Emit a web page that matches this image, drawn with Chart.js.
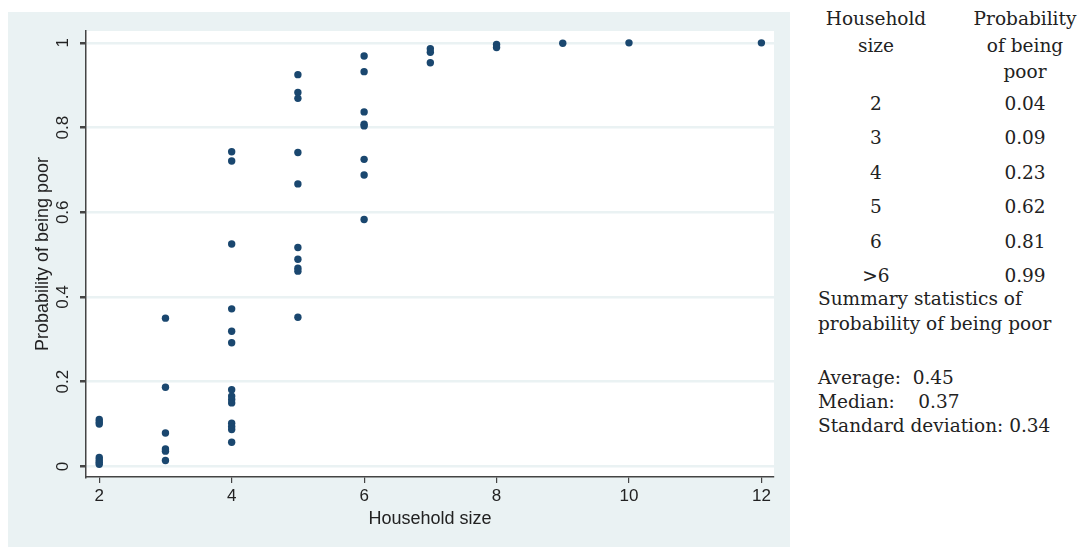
<!DOCTYPE html>
<html>
<head>
<meta charset="utf-8">
<script src="https://cdn.jsdelivr.net/npm/chart.js@4.4.1/dist/chart.umd.min.js"></script>
<style>
  html, body { margin: 0; padding: 0; background: #ffffff; }
  body { width: 1082px; height: 547px; position: relative; overflow: hidden; }
  #wrap { position: absolute; left: 8px; top: 12px; width: 782px; height: 535px; background: #eaf2f3; }
  .t { position: absolute; font-family: "DejaVu Serif", serif; font-size: 18.5px; line-height: 21px; color: #222; white-space: pre; }
  .c1 { width: 120px; left: 816px; text-align: center; }
  .c2 { width: 130px; left: 960px; text-align: center; }
</style>
</head>
<body>
<div id="wrap"><canvas id="scatter" width="782" height="535"></canvas></div>

<div class="t c1" style="top:8px">Household</div>
<div class="t c1" style="top:35px">size</div>
<div class="t c2" style="top:8px">Probability</div>
<div class="t c2" style="top:35px">of being</div>
<div class="t c2" style="top:61px">poor</div>
<div id="tableRows"></div>

<div class="t" style="left:818px;top:288px">Summary statistics of</div>
<div class="t" style="left:818px;top:313px">probability of being poor</div>
<div class="t" style="left:818px;top:367px">Average:  0.45</div>
<div class="t" style="left:818px;top:391px">Median:    0.37</div>
<div class="t" style="left:818px;top:415px">Standard deviation: 0.34</div>

<script>
// ── Data ─────────────────────────────────────────────────────
const householdSize = [
    2, 2, 2, 2, 2, 2, 2,
    3, 3, 3, 3, 3, 3,
    4, 4, 4, 4, 4, 4, 4, 4, 4, 4, 4, 4, 4, 4,
    5, 5, 5, 5, 5, 5, 5, 5, 5, 5,
    6, 6, 6, 6, 6, 6, 6, 6,
    7, 7, 7,
    8, 8,
    9, 10, 12
];
const probPoor = [
    0.111, 0.105, 0.100, 0.021, 0.015, 0.010, 0.005,
    0.350, 0.187, 0.079, 0.041, 0.036, 0.014,
    0.743, 0.721, 0.525, 0.372, 0.319, 0.292, 0.181, 0.166, 0.158, 0.150, 0.102, 0.094, 0.087, 0.057,
    0.925, 0.883, 0.869, 0.741, 0.667, 0.517, 0.489, 0.468, 0.461, 0.352,
    0.969, 0.932, 0.837, 0.808, 0.804, 0.725, 0.688, 0.583,
    0.986, 0.978, 0.953,
    0.996, 0.989,
    0.999, 1.0, 1.0
];
const xTicks = [2, 4, 6, 8, 10, 12];
const yTicks = [0, 0.2, 0.4, 0.6, 0.8, 1];

// side table
const tableSizes = ['2', '3', '4', '5', '6', '>6'];
const tableProbs = ['0.04', '0.09', '0.23', '0.62', '0.81', '0.99'];

const NAVY = '#1a476f';
const AXIS = '#444444';
const GRID = '#eaf2f3';

// ── Side table rows ──────────────────────────────────────────
const rowsEl = document.getElementById('tableRows');
tableSizes.forEach((s, i) => {
    const top = 93 + i * 34.4;
    rowsEl.insertAdjacentHTML('beforeend',
        '<div class="t c1" style="top:' + top + 'px"></div>' +
        '<div class="t c2" style="top:' + top + 'px"></div>');
    const cells = rowsEl.querySelectorAll('div');
    cells[cells.length - 2].textContent = s;
    cells[cells.length - 1].textContent = tableProbs[i];
});

// ── Plugin: white plot region + rotated y labels / title ─────
const stataFrame = {
    id: 'stataFrame',
    beforeDraw(chart) {
        const { ctx, chartArea: a } = chart;
        ctx.save();
        ctx.fillStyle = '#ffffff';
        ctx.fillRect(a.left, a.top, a.right - a.left, a.bottom - a.top);
        ctx.restore();
    },
    afterDraw(chart) {
        const { ctx, chartArea: a } = chart;
        const y = chart.scales.y;
        ctx.save();
        ctx.fillStyle = '#222';
        ctx.textAlign = 'center';
        ctx.textBaseline = 'middle';
        ctx.font = '17px "Liberation Sans", Arial, sans-serif';
        yTicks.forEach(v => {
            ctx.save();
            ctx.translate(55, y.getPixelForValue(v));
            ctx.rotate(-Math.PI / 2);
            ctx.fillText(String(v), 0, 0);
            ctx.restore();
        });
        ctx.font = '18px "Liberation Sans", Arial, sans-serif';
        ctx.translate(35, (a.top + a.bottom) / 2);
        ctx.rotate(-Math.PI / 2);
        ctx.fillText('Probability of being poor', 0, 0);
        ctx.restore();
    }
};

const points = householdSize.map((x, i) => ({ x, y: probPoor[i] }));

new Chart(document.getElementById('scatter'), {
    type: 'scatter',
    data: {
        datasets: [{
            data: points,
            backgroundColor: NAVY,
            borderColor: NAVY,
            borderWidth: 0,
            pointRadius: 3.7,
            pointHoverRadius: 3.7
        }]
    },
    options: {
        responsive: false,
        animation: false,
        layout: { padding: { left: 0, top: 19, right: 16, bottom: 0 } },
        plugins: { legend: { display: false }, tooltip: { enabled: false } },
        scales: {
            x: {
                type: 'linear',
                min: 1.8,
                max: 12.19,
                afterFit: s => { s.height = 70; },
                afterBuildTicks: s => { s.ticks = xTicks.map(v => ({ value: v })); },
                grid: { drawOnChartArea: false, tickLength: 6, tickColor: AXIS, lineWidth: 1.2 },
                border: { color: AXIS, width: 1.5 },
                ticks: {
                    color: '#222',
                    padding: 3,
                    maxRotation: 0,
                    font: { family: '"Liberation Sans", Arial, sans-serif', size: 17 }
                },
                title: {
                    display: true,
                    text: 'Household size',
                    color: '#222',
                    padding: { top: 0, bottom: 17 },
                    font: { family: '"Liberation Sans", Arial, sans-serif', size: 18 }
                }
            },
            y: {
                type: 'linear',
                min: -0.025,
                max: 1.028,
                afterFit: s => { s.width = 78; },
                afterBuildTicks: s => { s.ticks = yTicks.map(v => ({ value: v })); },
                grid: { color: GRID, lineWidth: 2.5, tickLength: 6, tickColor: AXIS },
                border: { color: AXIS, width: 1.5 },
                ticks: { display: false }
            }
        }
    },
    plugins: [stataFrame]
});
</script>
</body>
</html>
